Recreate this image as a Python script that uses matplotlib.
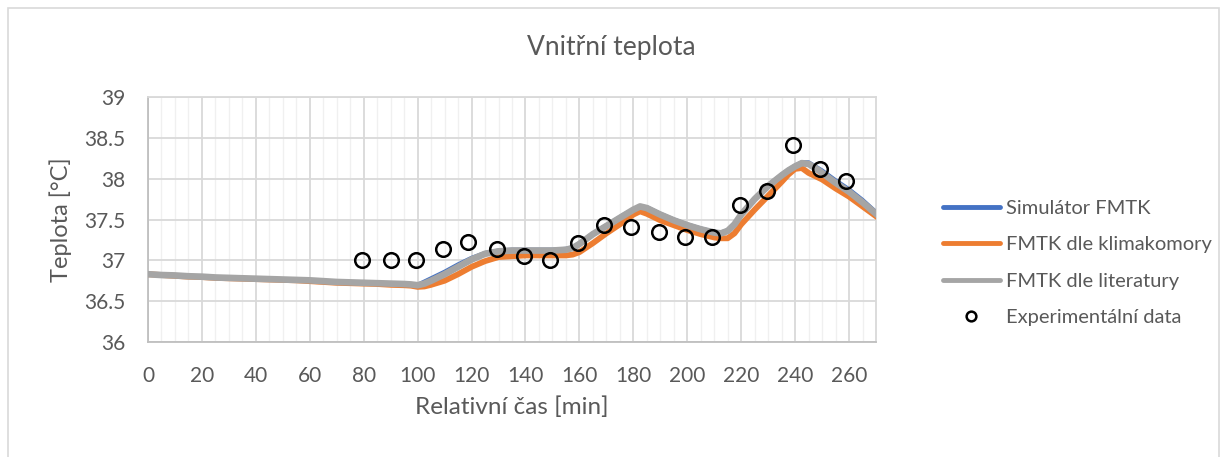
import matplotlib.pyplot as plt
from matplotlib.patches import Rectangle
from matplotlib.ticker import MultipleLocator

plt.rcParams['font.family'] = ['Lato', 'DejaVu Sans']

# Simulated curves (time in min), denser around the bends
cas = [0, 5, 10, 15, 20, 25, 30, 35, 40, 45, 50, 55, 60, 65, 70, 75, 80, 85, 90, 95,
       97.5, 100, 102.5, 105, 110, 115, 120, 125, 130, 135, 140, 145, 150, 155,
       157.5, 160, 165, 170, 175, 177.5, 180, 182.5, 185, 187.5, 190,
       195, 200, 205, 210, 212.5, 215, 217.5, 220, 225, 230, 235,
       237.5, 240, 242.5, 245, 247.5, 250, 255, 260, 265, 270]
simulator = [36.83, 36.82, 36.815, 36.805, 36.80, 36.79, 36.785, 36.78, 36.775, 36.77,
             36.765, 36.76, 36.755, 36.745, 36.735, 36.73, 36.725, 36.72, 36.715, 36.71,
             36.705, 36.70, 36.74, 36.78, 36.86, 36.95, 37.03, 37.09, 37.12, 37.13,
             37.13, 37.13, 37.13, 37.14, 37.16, 37.21, 37.33, 37.43, 37.53, 37.58,
             37.62, 37.66, 37.65, 37.61, 37.57, 37.50, 37.44, 37.39, 37.35, 37.34,
             37.37, 37.45, 37.57, 37.76, 37.92, 38.05, 38.11, 38.16, 38.20, 38.20,
             38.15, 38.10, 37.98, 37.87, 37.74, 37.59]
klimakomora = [36.83, 36.82, 36.81, 36.80, 36.795, 36.785, 36.78, 36.775, 36.77, 36.765,
               36.76, 36.755, 36.745, 36.735, 36.725, 36.72, 36.715, 36.71, 36.70, 36.695,
               36.69, 36.675, 36.68, 36.70, 36.75, 36.83, 36.92, 36.99, 37.04, 37.05,
               37.06, 37.06, 37.06, 37.06, 37.07, 37.10, 37.21, 37.33, 37.44, 37.50,
               37.56, 37.60, 37.57, 37.53, 37.49, 37.43, 37.37, 37.32, 37.28, 37.27,
               37.27, 37.33, 37.44, 37.62, 37.79, 37.96, 38.05, 38.12, 38.13, 38.07,
               38.03, 37.99, 37.88, 37.78, 37.66, 37.54]
literatura = [36.83, 36.82, 36.815, 36.805, 36.80, 36.79, 36.785, 36.78, 36.775, 36.77,
              36.765, 36.76, 36.755, 36.745, 36.735, 36.73, 36.725, 36.72, 36.715, 36.71,
              36.705, 36.695, 36.715, 36.75, 36.83, 36.92, 37.01, 37.08, 37.11, 37.12,
              37.12, 37.12, 37.12, 37.13, 37.15, 37.20, 37.32, 37.42, 37.52, 37.57,
              37.62, 37.66, 37.64, 37.60, 37.56, 37.49, 37.43, 37.38, 37.34, 37.33,
              37.36, 37.44, 37.56, 37.75, 37.91, 38.04, 38.10, 38.15, 38.19, 38.18,
              38.13, 38.07, 37.95, 37.84, 37.71, 37.57]

# Measured values
exp_cas = [79.4, 90.0, 99.3, 109.5, 118.8, 129.4, 139.3, 149.2, 159.3, 169.3,
           179.0, 189.5, 199.0, 209.0, 219.5, 229.4, 239.3, 249.2, 258.8]
exp_teplota = [37.01, 37.01, 37.00, 37.14, 37.22, 37.14, 37.05, 37.00, 37.21, 37.43,
               37.41, 37.35, 37.29, 37.29, 37.68, 37.85, 38.41, 38.12, 37.97]

text_color = '#595959'
grid_major = '#d9d9d9'
grid_minor = '#f0f0f0'

fig = plt.figure(figsize=(12.23, 4.57), dpi=100)
ax = fig.add_axes([148 / 1223, 1 - 342 / 457, (876 - 148) / 1223, (342 - 97) / 457])

# outer chart frame
fig.patches.append(Rectangle((8 / 1223, -0.05), (1219 - 8) / 1223, 1.05 - 8 / 457,
                             transform=fig.transFigure, fill=False,
                             edgecolor='#d9d9d9', linewidth=1.2))

ax.plot(cas, simulator, color='#4472c4', linewidth=3, label='Simulátor FMTK',
        solid_joinstyle='round', zorder=3)
ax.plot(cas, klimakomora, color='#ed7d31', linewidth=4.2, label='FMTK dle klimakomory',
        solid_joinstyle='round', zorder=4)
ax.plot(cas, literatura, color='#a5a5a5', linewidth=4.8, label='FMTK dle literatury',
        solid_joinstyle='round', zorder=5)
ax.plot(exp_cas, exp_teplota, linestyle='none', marker='o', markersize=10.5,
        markerfacecolor='none', markeredgecolor='black', markeredgewidth=1.8,
        label='Experimentální data', zorder=6)

ax.set_xlim(0, 270)
ax.set_ylim(36, 39)
ax.xaxis.set_major_locator(MultipleLocator(20))
ax.xaxis.set_minor_locator(MultipleLocator(5))
ax.set_yticks([36, 36.5, 37, 37.5, 38, 38.5, 39])
ax.set_yticklabels(['36', '36.5', '37', '37.5', '38', '38.5', '39'])

ax.grid(which='major', axis='both', color=grid_major, linewidth=1.3, zorder=0)
ax.grid(which='minor', axis='x', color=grid_minor, linewidth=1.0, zorder=0)
ax.set_axisbelow(True)
for side in ax.spines.values():
    side.set_color(grid_major)
    side.set_linewidth(1.3)
ax.spines['bottom'].set_color('#bfbfbf')
ax.spines['left'].set_color('#bfbfbf')

ax.tick_params(which='both', length=0, labelsize=15, colors=text_color)
ax.tick_params(axis='x', pad=17)
ax.tick_params(axis='y', pad=16)

ax.set_xlabel('Relativní čas [min]', fontsize=17.5, color=text_color, labelpad=8)
ax.set_ylabel('Teplota [°C]', fontsize=17, color=text_color, labelpad=9)
fig.text(0.5, 1 - 47 / 457, 'Vnitřní teplota', ha='center', va='center',
         fontsize=19, color=text_color)

leg = fig.legend(loc='center left', bbox_to_anchor=(925 / 1223, 1 - 263 / 457),
                 frameon=False, fontsize=14.5, handlelength=2.8, handletextpad=0.3,
                 labelspacing=0.95)
for t in leg.get_texts():
    t.set_color(text_color)
for h in leg.legend_handles[:3]:
    h.set_linewidth(3.5)
    h.set_solid_capstyle('round')
leg.legend_handles[3].set_markersize(7)

fig.savefig('out.png', dpi=100)
